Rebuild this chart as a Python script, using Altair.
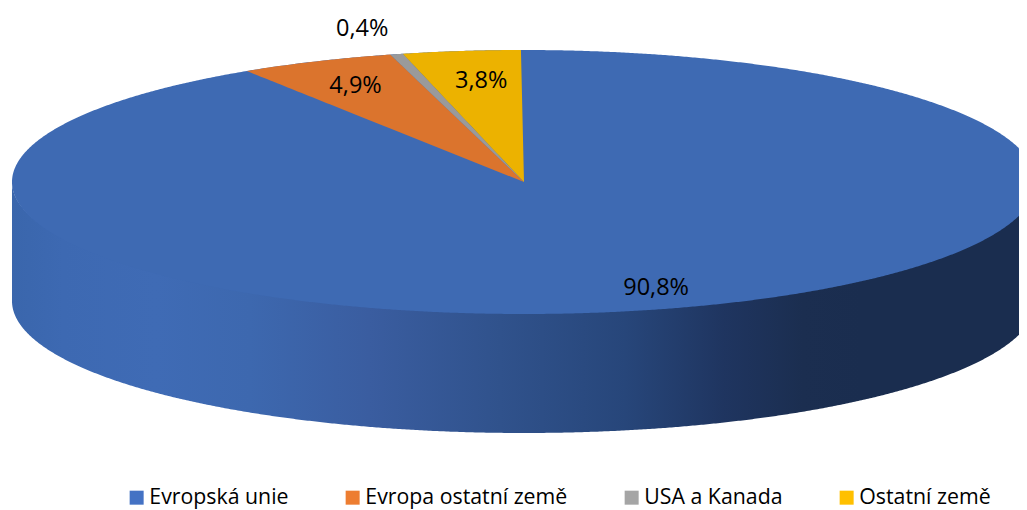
import math
import altair as alt
import pandas as pd

# --- data ---
categories = ["Evropská unie", "Evropa ostatní země", "USA a Kanada", "Ostatní země"]
shares = [90.8, 4.9, 0.4, 3.8]
labels = ["90,8%", "4,9%", "0,4%", "3,8%"]

# --- styles ---
top_colors = ["#3E6AB3", "#DB742D", "#9A9A9A", "#ECB200"]
legend_colors = ["#4472C4", "#ED7D31", "#A5A5A5", "#FFC000"]
FONT = "Open Sans"
DEPTH = 0.9015          # wall height, in units of the vertical radius
LABEL_FX = [0.914, 0.81, 1.27, 0.70]   # radial placement of each label
LABEL_FY = [0.84, 0.80, 1.20, 0.77]

x_scale = alt.Scale(domain=[-516 / 512, 495 / 512], range=[0, 1011], nice=False, zero=False)
y_scale = alt.Scale(domain=[174 / 132, (174 - 502) / 132], range=[0, 502], nice=False, zero=False)

total = sum(shares)
N = 720

# geometry derived from the shares: unit circle, clockwise from twelve o'clock
top_rows, cum = [], 0.0
label_rows = []
for i, (cat, s, lab) in enumerate(zip(categories, shares, labels)):
    a0 = cum / total * 2 * math.pi
    cum += s
    a1 = cum / total * 2 * math.pi
    mid = (a0 + a1) / 2
    label_rows.append({"x": math.sin(mid) * LABEL_FX[i], "y": math.cos(mid) * LABEL_FY[i], "t": lab})
    if a1 - a0 > math.pi:
        # the dominant slice is the whole disc, the others are painted over it
        for k in range(N + 1):
            t = -math.pi / 2 + math.pi * k / N
            top_rows.append({"x": math.sin(t), "y": math.cos(t), "y2": -math.cos(t), "fill": top_colors[i]})
    else:
        px, py = math.sin(a0), math.cos(a0)
        for k in range(41):
            t = a0 + (a1 - a0) * k / 40
            x = math.sin(t)
            top_rows.append({"x": x, "y": math.cos(t), "y2": x * py / px, "fill": top_colors[i]})
        top_rows.append({"x": 0.0, "y": 0.0, "y2": 0.0, "fill": top_colors[i]})
top_df = pd.DataFrame(top_rows)

wall_rows = []
for k in range(N + 1):
    t = -math.pi / 2 + math.pi * k / N
    y = -math.cos(t)
    # upper edge tucked slightly under the disc so no seam shows
    wall_rows.append({"x": math.sin(t), "y": y * 0.97, "y2": y - DEPTH})
wall_df = pd.DataFrame(wall_rows)

label_df = pd.DataFrame(label_rows)
legend_df = pd.DataFrame({"c": categories, "x": [0.0] * 4, "y": [0.0] * 4})

X = alt.X("x:Q", scale=x_scale, axis=None)
Y = alt.Y("y:Q", scale=y_scale, axis=None)

wall_gradient = alt.LinearGradient(
    gradient="linear", x1=0, x2=1, y1=0, y2=0,
    stops=[
        alt.GradientStop(offset=0.0, color="#3A66AC"),
        alt.GradientStop(offset=0.05, color="#3D69B2"),
        alt.GradientStop(offset=0.14, color="#3F6BB5"),
        alt.GradientStop(offset=0.232, color="#3D68AF"),
        alt.GradientStop(offset=0.349, color="#3A5DA0"),
        alt.GradientStop(offset=0.477, color="#30528C"),
        alt.GradientStop(offset=0.599, color="#27467A"),
        alt.GradientStop(offset=0.695, color="#1F3560"),
        alt.GradientStop(offset=0.772, color="#1B2E50"),
        alt.GradientStop(offset=0.83, color="#1A2D4F"),
        alt.GradientStop(offset=1.0, color="#1A2D4F"),
    ],
)

wall = alt.Chart(wall_df).mark_area(clip=True, color=wall_gradient, interpolate="linear").encode(
    x=X, y=Y, y2="y2:Q"
)
top = alt.Chart(top_df).mark_area(clip=True, interpolate="linear").encode(
    x=X, y=Y, y2="y2:Q", color=alt.Color("fill:N", scale=None, legend=None)
)
text = alt.Chart(label_df).mark_text(
    font=FONT, fontSize=23.5, color="#000000", align="center", baseline="middle"
).encode(x=X, y=Y, text="t:N")
legend_layer = alt.Chart(legend_df).mark_square(size=0, opacity=0).encode(
    x=X, y=Y,
    color=alt.Color(
        "c:N",
        scale=alt.Scale(domain=categories, range=legend_colors),
        sort=categories,
        legend=alt.Legend(
            title=None, orient="none", legendX=118, legendY=479, direction="horizontal",
            columns=4, columnPadding=53, symbolType="square", symbolSize=196,
            symbolOpacity=1, symbolStrokeWidth=0, labelFont=FONT, labelFontSize=21.3,
            labelColor="#000000", labelOffset=2, labelLimit=400,
        ),
    ),
)

chart = (
    alt.layer(wall, top, text, legend_layer)
    .resolve_scale(color="independent")
    .properties(width=1011, height=502, padding=0, autosize=alt.AutoSizeParams(type="none"))
    .configure_view(stroke=None)
)
chart.save("out.html", embed_options={"renderer": "svg", "actions": False})
